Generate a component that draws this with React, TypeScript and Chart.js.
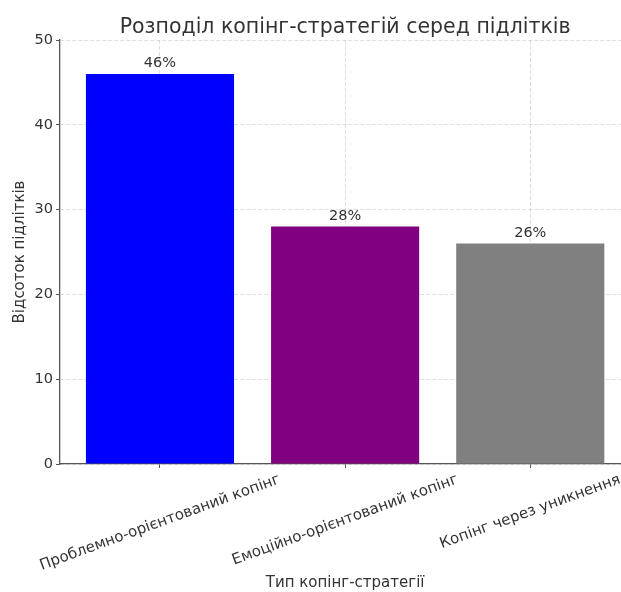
import { useEffect, useRef } from "react";
import { Chart, registerables } from "chart.js";

Chart.register(...registerables);

const categories = [
  "Проблемно-орієнтований копінг",
  "Емоційно-орієнтований копінг",
  "Копінг через уникнення",
];
const values = [46, 28, 26];
const valueLabels = ["46%", "28%", "26%"];
const barColors = ["#0000ff", "#800080", "#808080"];
const yTicks = [0, 10, 20, 30, 40, 50];
const chartTitle = "Розподіл копінг-стратегій серед підлітків";
const xTitle = "Тип копінг-стратегії";
const yTitle = "Відсоток підлітків";
const X_MIN = -0.54;
const X_MAX = 2.49;
const Y_MIN = 0;
const Y_MAX = 50;

const FONT = '"DejaVu Sans", sans-serif';
const TEXT = "#333333";
const GRID = "rgba(176,176,176,0.4)";
const SPINE = "#555555";

const textPlugin = {
  id: "customTexts",
  afterDraw(chart: any) {
    const { ctx, chartArea, scales } = chart;
    const x = scales.x;
    const y = scales.y;
    ctx.save();
    ctx.fillStyle = TEXT;

    // title
    ctx.font = `20.5px ${FONT}`;
    ctx.textAlign = "center";
    ctx.textBaseline = "alphabetic";
    ctx.fillText(chartTitle, x.getPixelForValue(1), 33);

    // value labels
    ctx.font = `14.5px ${FONT}`;
    values.forEach((v, i) => {
      ctx.fillText(valueLabels[i], x.getPixelForValue(i), y.getPixelForValue(v) - 7);
    });

    // rotated category labels (center aligned)
    const ang = (20 * Math.PI) / 180;
    const fs = 15;
    ctx.font = `${fs}px ${FONT}`;
    categories.forEach((c, i) => {
      const w = ctx.measureText(c).width;
      const h = fs * 1.16;
      const H = w * Math.sin(ang) + h * Math.cos(ang);
      const cx = x.getPixelForValue(i);
      const cy = chartArea.bottom + 7 + H / 2;
      ctx.save();
      ctx.translate(cx, cy);
      ctx.rotate(-ang);
      ctx.textAlign = "center";
      ctx.textBaseline = "middle";
      ctx.fillText(c, 0, 0);
      ctx.restore();
    });

    // x title
    ctx.textAlign = "center";
    ctx.textBaseline = "alphabetic";
    ctx.fillText(xTitle, x.getPixelForValue(1), 587);

    // y title
    ctx.save();
    ctx.translate(20, (chartArea.top + chartArea.bottom) / 2);
    ctx.rotate(-Math.PI / 2);
    ctx.textAlign = "center";
    ctx.textBaseline = "middle";
    ctx.fillText(yTitle, 0, 0);
    ctx.restore();

    ctx.restore();
  },
};

export default function App() {
  const ref = useRef<HTMLCanvasElement>(null);

  useEffect(() => {
    if (!ref.current) return;
    const chart = new Chart(ref.current, {
      type: "bar",
      data: {
        datasets: [
          {
            data: values.map((v, i) => ({ x: i, y: v })) as any,
            backgroundColor: barColors,
            borderWidth: 0,
            barPercentage: 0.8,
            categoryPercentage: 1,
          },
        ],
      },
      options: {
        responsive: false,
        animation: false,
        layout: { padding: { top: 40, right: 0, left: 0, bottom: 0 } },
        plugins: {
          legend: { display: false },
          tooltip: { enabled: false },
          title: { display: false },
        },
        scales: {
          x: {
            type: "linear",
            min: X_MIN,
            max: X_MAX,
            offset: false,
            z: 1,
            afterBuildTicks: (s: any) => {
              s.ticks = categories.map((_, i) => ({ value: i }));
            },
            afterFit: (s: any) => {
              s.height = 128;
            },
            ticks: { display: false },
            grid: {
              offset: false,
              color: GRID,
              lineWidth: 1,
              tickColor: SPINE,
              tickLength: 4,
            },
            border: { color: SPINE, width: 1.3, dash: [4, 2] },
          },
          y: {
            min: Y_MIN,
            max: Y_MAX,
            z: 1,
            afterBuildTicks: (s: any) => {
              s.ticks = yTicks.map((v) => ({ value: v }));
            },
            afterFit: (s: any) => {
              s.width = 60;
            },
            ticks: {
              color: TEXT,
              font: { family: FONT, size: 14.5 },
              padding: 3,
            },
            grid: {
              color: GRID,
              lineWidth: 1,
              tickColor: SPINE,
              tickLength: 4,
            },
            border: { color: SPINE, width: 1.3, dash: [4, 2] },
          },
        },
      },
      plugins: [textPlugin],
    });
    return () => chart.destroy();
  }, []);

  return (
    <div style={{ position: "absolute", left: 0, top: 0, width: 621, height: 592, background: "#fff" }}>
      <canvas ref={ref} width={621} height={592} />
    </div>
  );
}
